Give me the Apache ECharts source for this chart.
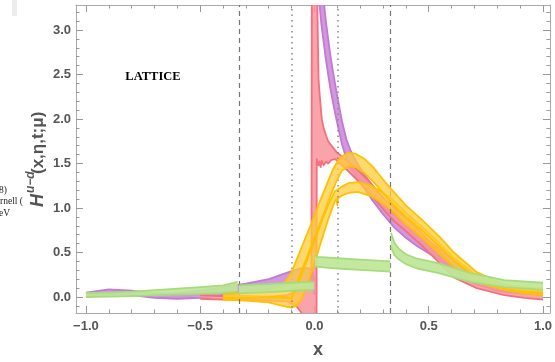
<!DOCTYPE html>
<html>
<head>
<meta charset="utf-8">
<script src="https://cdn.jsdelivr.net/npm/echarts@6/dist/echarts.min.js"></script>
<style>
  html, body { margin: 0; padding: 0; background: #fff; }
  #chart { width: 555px; height: 362px; }
</style>
</head>
<body>
<div id="chart"></div>
<script>
// axis ticks
const xMajor = [-1, -0.5, 0, 0.5, 1];
const xMinor = [-1, -0.9, -0.8, -0.7, -0.6, -0.5, -0.4, -0.3, -0.2, -0.1, 0, 0.1, 0.2, 0.3, 0.4, 0.5, 0.6, 0.7, 0.8, 0.9, 1];
const yMajor = [0, 0.5, 1, 1.5, 2, 2.5, 3];
const yMinor = [-0.1, 0, 0.1, 0.2, 0.3, 0.4, 0.5, 0.6, 0.7, 0.8, 0.9, 1, 1.1, 1.2, 1.3, 1.4, 1.5, 1.6, 1.7, 1.8, 1.9, 2, 2.1, 2.2, 2.3, 2.4, 2.5, 2.6, 2.7, 2.8, 2.9, 3, 3.1, 3.2];

// vertical guide lines: x = ±1/3 dashed, x = ±0.1 dotted
const dashedX = [-1 / 3, 1 / 3];
const dottedX = [-0.1, 0.1];

// bands: [x, lower, upper]
const purpleNeg = [
  [-1.0, 0.00, 0.05], [-0.9, 0.03, 0.085], [-0.8, 0.02, 0.07], [-0.7, -0.01, 0.04],
  [-0.6, -0.02, 0.04], [-0.5, -0.01, 0.07], [-0.4, 0.02, 0.11], [-0.3, 0.05, 0.15],
  [-0.2, 0.09, 0.20], [-0.1, 0.14, 0.29], [-0.05, 0.17, 0.33], [-0.02, 0.17, 0.32],
  [-0.005, 0.10, 0.26], [0.0, 0.02, 0.18]
];
const purplePos = [
  [0.012, 3.80, 4.40], [0.02, 3.35, 3.95], [0.03, 3.07, 3.59], [0.04, 2.87, 3.34],
  [0.05, 2.67, 3.10], [0.06, 2.50, 2.90], [0.07, 2.34, 2.71], [0.08, 2.20, 2.55],
  [0.09, 2.07, 2.40], [0.10, 1.95, 2.25], [0.12, 1.72, 1.98], [0.14, 1.55, 1.77],
  [0.16, 1.445, 1.635], [0.18, 1.365, 1.535], [0.20, 1.29, 1.45], [0.25, 1.10, 1.26],
  [0.30, 0.93, 1.09], [0.35, 0.78, 0.94], [0.40, 0.665, 0.815], [0.45, 0.57, 0.72],
  [0.54, 0.43, 0.56], [0.62, 0.28, 0.38], [0.70, 0.15, 0.23], [0.80, 0.07, 0.14],
  [0.90, 0.04, 0.105], [1.00, 0.025, 0.09]
];
const redBand = [
  [-0.5, -0.02, 0.02], [-0.4, -0.03, 0.01], [-0.3, -0.03, 0.01], [-0.2, -0.04, 0.00],
  [-0.12, -0.05, 0.02], [-0.08, -0.10, 0.06], [-0.05, -0.20, 0.12], [-0.03, -0.35, 0.17],
  [-0.018, -0.60, 0.22], [-0.013, -1.50, 0.30], [-0.011, -4.0, 4.0], [0.008, -4.0, 4.0],
  [0.010, 1.55, 4.0], [0.013, 1.50, 3.20], [0.018, 1.48, 2.45], [0.022, 1.52, 2.30],
  [0.027, 1.46, 2.15], [0.032, 1.53, 2.00], [0.04, 1.48, 1.90], [0.05, 1.52, 1.82],
  [0.06, 1.50, 1.75], [0.075, 1.54, 1.70], [0.09, 1.55, 1.65], [0.10, 1.53, 1.62],
  [0.12, 1.48, 1.58], [0.15, 1.41, 1.52], [0.20, 1.28, 1.40], [0.25, 1.14, 1.27],
  [0.30, 0.99, 1.12], [0.35, 0.85, 1.00], [0.40, 0.74, 0.88], [0.465, 0.59, 0.73],
  [0.54, 0.40, 0.53], [0.61, 0.22, 0.34], [0.71, 0.10, 0.17], [0.83, 0.02, 0.09],
  [0.92, -0.01, 0.06], [1.00, -0.03, 0.04]
];
const yellowA = [
  [-0.4, -0.01, 0.03], [-0.3, -0.01, 0.05], [-0.2, 0.00, 0.08], [-0.14, 0.00, 0.12],
  [-0.1, -0.02, 0.28], [-0.07, 0.20, 0.47], [-0.04, 0.40, 0.66], [-0.01, 0.60, 0.85],
  [0.02, 0.80, 1.05], [0.05, 1.00, 1.24], [0.08, 1.20, 1.43], [0.10, 1.32, 1.52],
  [0.12, 1.42, 1.58], [0.15, 1.47, 1.62], [0.18, 1.46, 1.61], [0.22, 1.39, 1.55],
  [0.26, 1.29, 1.45], [0.30, 1.17, 1.32], [0.34, 1.05, 1.20], [0.40, 0.90, 1.03],
  [0.465, 0.76, 0.88], [0.55, 0.56, 0.67], [0.61, 0.41, 0.50], [0.71, 0.21, 0.28],
  [0.83, 0.09, 0.14], [0.92, 0.06, 0.11], [1.00, 0.05, 0.10]
];
const yellowB = [
  [-0.4, -0.03, 0.01], [-0.3, -0.04, 0.00], [-0.2, -0.06, 0.00], [-0.14, -0.10, -0.01],
  [-0.1, -0.12, 0.00], [-0.08, -0.10, 0.10], [-0.06, -0.04, 0.22], [-0.04, 0.08, 0.36],
  [-0.02, 0.22, 0.50], [0.0, 0.38, 0.62], [0.03, 0.63, 0.84], [0.06, 0.87, 1.03],
  [0.09, 1.08, 1.19], [0.097, 1.10, 1.20], [0.10, 1.03, 1.20], [0.103, 1.11, 1.21],
  [0.12, 1.14, 1.24], [0.15, 1.17, 1.28], [0.19, 1.18, 1.29], [0.25, 1.13, 1.25],
  [0.30, 1.05, 1.17], [0.34, 0.97, 1.10], [0.40, 0.82, 0.95], [0.465, 0.68, 0.80],
  [0.55, 0.48, 0.60], [0.61, 0.34, 0.44], [0.71, 0.16, 0.24], [0.83, 0.08, 0.12],
  [0.92, 0.04, 0.09], [1.00, 0.02, 0.07]
];
const greenLeft = [
  [-1.0, 0.00, 0.045], [-0.9, 0.005, 0.05], [-0.8, 0.01, 0.06], [-0.68, 0.02, 0.08],
  [-0.5, 0.035, 0.11], [-0.4, 0.045, 0.13], [-0.336, 0.06, 0.17]
];
const greenMidNeg = [
  [-0.331, 0.04, 0.13], [-0.2, 0.055, 0.145], [-0.1, 0.07, 0.16], [-0.002, 0.08, 0.17]
];
const greenMidPos = [
  [0.002, 0.34, 0.47], [0.01, 0.34, 0.45], [0.05, 0.33, 0.445], [0.1, 0.32, 0.435],
  [0.2, 0.305, 0.42], [0.332, 0.285, 0.40]
];
const greenRight = [
  [0.335, 0.56, 0.72], [0.35, 0.47, 0.61], [0.37, 0.42, 0.54], [0.4, 0.37, 0.48],
  [0.45, 0.32, 0.43], [0.54, 0.27, 0.38], [0.68, 0.17, 0.27], [0.83, 0.11, 0.19],
  [1.0, 0.08, 0.16]
];

const X_MIN = -1.0435, X_MAX = 1.0304, Y_MIN = -0.18, Y_MAX = 3.281;

const PURPLE = ['#c27ad4', 'rgba(204,138,219,0.88)'];
const RED = ['#f5707d', 'rgba(248,148,156,0.85)'];
const YELLOW = ['#ffc100', 'rgba(255,204,60,0.75)'];
const GREEN = ['#a8db7c', 'rgba(190,230,152,0.92)'];

function band(points, colors, z) {
  return {
    type: 'custom',
    xAxisIndex: 0,
    yAxisIndex: 0,
    z: z,
    silent: true,
    data: points,
    encode: { x: 0, y: [1, 2] },
    renderItem: function (params, api) {
      if (params.dataIndex !== 0) return null;
      const lo = points.map(p => api.coord([p[0], p[1]]));
      const hi = points.map(p => api.coord([p[0], p[2]]));
      const cs = params.coordSys;
      return {
        type: 'group',
        clipPath: { type: 'rect', shape: { x: cs.x, y: cs.y, width: cs.width, height: cs.height } },
        children: [
          { type: 'polygon', shape: { points: lo.concat(hi.slice().reverse()) }, style: { fill: colors[1], stroke: null } },
          { type: 'polyline', shape: { points: lo }, style: { stroke: colors[0], lineWidth: 1.8, fill: null, lineJoin: 'round' } },
          { type: 'polyline', shape: { points: hi }, style: { stroke: colors[0], lineWidth: 1.8, fill: null, lineJoin: 'round' } }
        ]
      };
    }
  };
}

const fmt = v => v.toFixed(1).replace('-', '\u2212');
const labelStyle = { color: '#555', fontWeight: 'bold', fontSize: 13, fontFamily: 'Liberation Sans, Arial, sans-serif' };
const lineStyle = { color: '#aaa', width: 1 };

function xAxis(pos, ticks, len, withLabel) {
  return {
    type: 'value', position: pos, min: X_MIN, max: X_MAX,
    axisLine: { show: withLabel !== null, onZero: false, lineStyle: lineStyle },
    splitLine: { show: false },
    axisTick: { show: true, inside: true, length: len, customValues: ticks, lineStyle: { color: '#999' } },
    axisLabel: withLabel ? Object.assign({ show: true, margin: 7, customValues: xMajor, formatter: fmt }, labelStyle) : { show: false }
  };
}
function yAxis(pos, ticks, len, withLabel) {
  return {
    type: 'value', position: pos, min: Y_MIN, max: Y_MAX,
    axisLine: { show: withLabel !== null, onZero: false, lineStyle: lineStyle },
    splitLine: { show: false },
    axisTick: { show: true, inside: true, length: len, customValues: ticks, lineStyle: { color: '#999' } },
    axisLabel: withLabel ? Object.assign({ show: true, margin: 5, customValues: yMajor, formatter: fmt }, labelStyle) : { show: false }
  };
}

const vLines = dashedX.map(x => ({ xAxis: x, lineStyle: { color: '#777', type: [5, 4], width: 1.2 } }))
  .concat(dottedX.map(x => ({ xAxis: x, lineStyle: { color: '#888', type: [1.5, 4], width: 1.5 } })));

const chart = echarts.init(document.getElementById('chart'), null, { renderer: 'canvas' });
chart.setOption({
  animation: false,
  backgroundColor: '#fff',
  grid: { left: 76, right: 2, top: 5, bottom: 49 },
  xAxis: [
    xAxis('bottom', xMinor, 3.5, true),
    xAxis('bottom', xMajor, 7, null),
    xAxis('top', xMinor, 3.5, false),
    xAxis('top', xMajor, 7, null)
  ],
  yAxis: [
    yAxis('left', yMinor, 3.5, true),
    yAxis('left', yMajor, 7, null),
    yAxis('right', yMinor, 3.5, false),
    yAxis('right', yMajor, 7, null)
  ],
  series: [
    {
      type: 'line', data: [], xAxisIndex: 0, yAxisIndex: 0, z: 1,
      markLine: { silent: true, symbol: 'none', label: { show: false }, animation: false, data: vLines }
    },
    band(purpleNeg, PURPLE, 2),
    band(purplePos, PURPLE, 2),
    band(redBand, RED, 3),
    band(yellowB, YELLOW, 4),
    band(yellowA, YELLOW, 5),
    band(greenLeft, GREEN, 6),
    band(greenMidNeg, GREEN, 6),
    band(greenMidPos, GREEN, 6),
    band(greenRight, GREEN, 6)
  ],
  graphic: [
    { type: 'rect', left: 12, top: 0, shape: { width: 5, height: 16 }, style: { fill: '#ececec' } },
    { type: 'text', x: 153, y: 77, style: { text: 'LATTICE', fill: '#000', font: 'bold 12.5px "Liberation Serif", "Times New Roman", serif', textAlign: 'center', textVerticalAlign: 'middle', align: 'center', verticalAlign: 'middle' } },
    { type: 'text', x: 7, y: 190, style: { text: '(2018)', fill: '#222', font: '9.5px "Liberation Serif", serif', textAlign: 'right', textVerticalAlign: 'middle', align: 'right', verticalAlign: 'middle' } },
    { type: 'text', x: 23, y: 201, style: { text: 'Cornell (', fill: '#222', font: '9.5px "Liberation Serif", serif', textAlign: 'right', textVerticalAlign: 'middle', align: 'right', verticalAlign: 'middle' } },
    { type: 'text', x: 10, y: 213, style: { text: 'GeV', fill: '#222', font: '9.5px "Liberation Serif", serif', textAlign: 'right', textVerticalAlign: 'middle', align: 'right', verticalAlign: 'middle' } },
    { type: 'text', x: 38, y: 207, rotation: Math.PI / 2, style: { text: 'H', fill: '#555', font: 'italic bold 18px "Liberation Sans", Arial, sans-serif', textAlign: 'left', textVerticalAlign: 'middle', align: 'left', verticalAlign: 'middle' } },
    { type: 'text', x: 31, y: 193, rotation: Math.PI / 2, style: { text: 'u\u2212d', fill: '#555', font: 'italic bold 12px "Liberation Sans", Arial, sans-serif', textAlign: 'left', textVerticalAlign: 'middle', align: 'left', verticalAlign: 'middle' } },
    { type: 'text', x: 38, y: 174, rotation: Math.PI / 2, style: { text: '(x,\u03b7,t;\u03bc)', fill: '#555', font: 'bold 17px "Liberation Sans", Arial, sans-serif', textAlign: 'left', textVerticalAlign: 'middle', align: 'left', verticalAlign: 'middle' } },
    { type: 'text', x: 318, y: 350, style: { text: 'x', fill: '#555', font: 'bold 18px "Liberation Sans", Arial, sans-serif', textAlign: 'center', textVerticalAlign: 'middle', align: 'center', verticalAlign: 'middle' } }
  ]
});
</script>
</body>
</html>
